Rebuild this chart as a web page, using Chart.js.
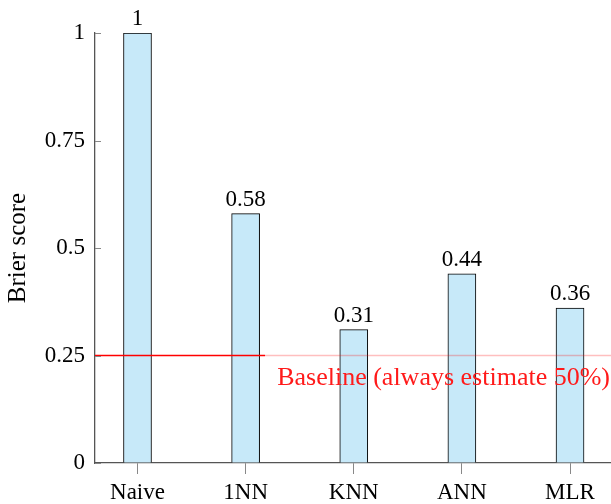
<!DOCTYPE html>
<html>
<head>
<meta charset="utf-8">
<script src="https://cdn.jsdelivr.net/npm/chart.js@4.4.1/dist/chart.umd.min.js"></script>
<style>
  body { margin: 0; background: #fff; }
  #wrap { width: 611px; height: 504px; }
</style>
</head>
<body>
<div id="wrap"><canvas id="brierChart"></canvas></div>
<script>
// model names and their Brier scores
var models = ["Naive", "1NN", "KNN", "ANN", "MLR"];
var brier = [1, 0.58, 0.31, 0.44, 0.36];
var yTicks = [0, 0.25, 0.5, 0.75, 1];
var baseline = 0.25;
var baselineLabel = "Baseline (always estimate 50%)";

var serif = "'Liberation Serif', serif";
var axisGray = "#555555";

// little tick marks pointing into the plot on the y axis
var innerTicks = {
  id: "innerTicks",
  afterDraw: function(chart) {
    var y = chart.scales.y, ctx = chart.ctx;
    ctx.save();
    ctx.strokeStyle = "#888888";
    ctx.lineWidth = 1;
    y.ticks.forEach(function(t) {
      var py = Math.round(y.getPixelForValue(t.value)) + 0.5;
      ctx.beginPath();
      ctx.moveTo(y.right, py);
      ctx.lineTo(y.right + 6, py);
      ctx.stroke();
    });
    ctx.restore();
  }
};

// numbers on top of the bars
var barValues = {
  id: "barValues",
  afterDatasetsDraw: function(chart) {
    var ctx = chart.ctx;
    var meta = chart.getDatasetMeta(0);
    ctx.save();
    ctx.font = "23px " + serif;
    ctx.fillStyle = "#000";
    ctx.textAlign = "center";
    ctx.textBaseline = "alphabetic";
    meta.data.forEach(function(bar, i) {
      ctx.fillText(String(brier[i]), bar.x, bar.y - 8);
    });
    ctx.restore();
  }
};

// baseline line with its label
var baselinePlugin = {
  id: "baselinePlugin",
  afterDatasetsDraw: function(chart) {
    var ctx = chart.ctx, x = chart.scales.x, y = chart.scales.y;
    var area = chart.chartArea;
    var py = y.getPixelForValue(baseline);
    var xEnd = x.getPixelForValue(1.18);
    ctx.save();
    ctx.lineWidth = 1.3;
    ctx.strokeStyle = "rgba(255,0,0,0.25)";
    ctx.beginPath();
    ctx.moveTo(xEnd, py);
    ctx.lineTo(area.right, py);
    ctx.stroke();
    ctx.strokeStyle = "#ff0000";
    ctx.beginPath();
    ctx.moveTo(area.left, py);
    ctx.lineTo(xEnd, py);
    ctx.stroke();
    ctx.font = "26px " + serif;
    ctx.fillStyle = "#ff1a1a";
    ctx.textAlign = "right";
    ctx.textBaseline = "middle";
    ctx.fillText(baselineLabel, area.right - 1, py + 23);
    ctx.restore();
  }
};

var ctx = document.getElementById("brierChart").getContext("2d");
var chart = new Chart(ctx, {
  type: "bar",
  data: {
    datasets: [{
      data: brier.map(function(v, i) { return { x: i, y: v }; }),
      backgroundColor: "#c7e9f9",
      borderColor: "#000000",
      borderWidth: 1,
      barThickness: 28
    }]
  },
  options: {
    responsive: true,
    maintainAspectRatio: false,
    animation: false,
    layout: { padding: { top: 33, right: 0, left: 0, bottom: 0 } },
    plugins: {
      legend: { display: false },
      tooltip: { enabled: false }
    },
    scales: {
      x: {
        type: "linear",
        offset: false,
        min: -0.393,
        max: 4.379,
        afterBuildTicks: function(scale) {
          scale.ticks = models.map(function(m, i) { return { value: i }; });
        },
        afterFit: function(scale) { scale.height = 41; },
        ticks: {
          font: { family: serif, size: 23 },
          color: "#000",
          padding: 5,
          callback: function(v) { return models[v]; }
        },
        grid: {
          offset: false,
          drawOnChartArea: false,
          drawTicks: true,
          tickLength: 11,
          tickColor: "#888888",
          color: "#888888"
        },
        border: { color: axisGray, width: 1.3 }
      },
      y: {
        min: 0,
        max: 1,
        afterBuildTicks: function(scale) {
          scale.ticks = yTicks.map(function(v) { return { value: v }; });
        },
        afterFit: function(scale) { scale.width = 95; },
        ticks: {
          font: { family: serif, size: 23 },
          color: "#000",
          padding: 10,
          callback: function(v) { return String(v); }
        },
        grid: { drawOnChartArea: false, drawTicks: false },
        border: { color: axisGray, width: 1.3 },
        title: {
          display: true,
          text: "Brier score",
          font: { family: serif, size: 25 },
          color: "#000",
          padding: { top: 3, bottom: 0 }
        }
      }
    }
  },
  plugins: [innerTicks, barValues, baselinePlugin]
});
</script>
</body>
</html>
